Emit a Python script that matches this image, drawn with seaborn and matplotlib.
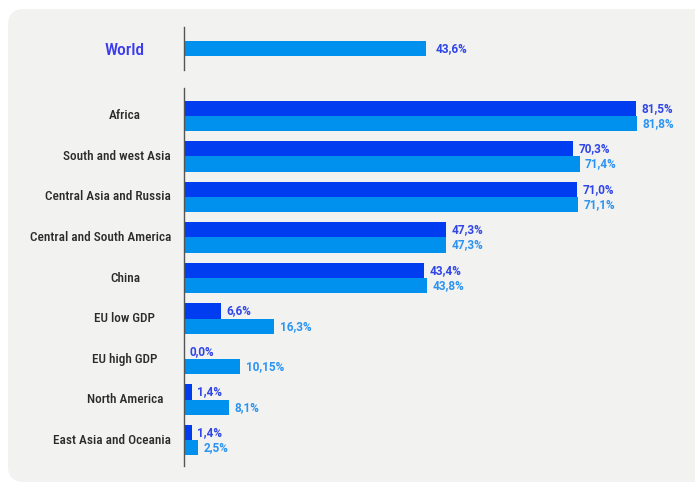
import matplotlib
matplotlib.use("Agg")
import matplotlib.pyplot as plt
from matplotlib.patches import FancyBboxPatch
from matplotlib import transforms, font_manager
import seaborn as sns
import pandas as pd

regions = ["Africa", "South and west Asia", "Central Asia and Russia",
           "Central and South America", "China", "EU low GDP", "EU high GDP",
           "North America", "East Asia and Oceania"]
series_a = [81.5, 70.3, 71.0, 47.3, 43.4, 6.6, 0.0, 1.4, 1.4]
series_b = [81.8, 71.4, 71.1, 47.3, 43.8, 16.3, 10.15, 8.1, 2.5]
series_names = ["Series A", "Series B"]
world_label = ["World"]
world_value = [43.6]

DARK = "#003CF0"
LIGHT = "#0091EE"
DARK_TXT = "#2F45E8"
LIGHT_TXT = "#2B93F2"
LABEL_TXT = "#2b2b2b"
NUMF = ["Roboto", "DejaVu Sans"]


def find_condensed():
    prefs = ["Liberation Sans Narrow", "Roboto Condensed", "DejaVu Sans Condensed",
             "Open Sans Condensed", "Noto Sans Condensed"]
    entries = font_manager.fontManager.ttflist
    cands = []
    for e in entries:
        fname = e.fname.lower()
        if ("narrow" in fname or "condensed" in fname) and "italic" not in fname \
                and "oblique" not in fname:
            cands.append(e)

    def norm(s):
        return s.lower().replace("-", "").replace("_", "").replace(" ", "")

    for p in prefs:
        key = norm(p)
        fam = [e for e in cands if key in norm(e.fname)]
        if not fam:
            continue
        for tag in ("medium", "semibold"):
            for e in fam:
                if tag in norm(e.fname):
                    return font_manager.FontProperties(fname=e.fname), True
        for e in fam:
            if "bold" not in norm(e.fname) and "light" not in norm(e.fname) \
                    and "thin" not in norm(e.fname) and "black" not in norm(e.fname):
                return font_manager.FontProperties(fname=e.fname), True
    for e in cands:
        if "bold" not in e.fname.lower():
            return font_manager.FontProperties(fname=e.fname), True
    return font_manager.FontProperties(family="DejaVu Sans"), False


cond_fp, is_cond = find_condensed()


def fmt(v):
    s = f"{v:.2f}"
    if s.endswith("0"):
        s = s[:-1]
    return s.replace(".", ",") + "%"


df = pd.DataFrame({
    "region": regions * 2,
    "series": [series_names[0]] * len(regions) + [series_names[1]] * len(regions),
    "value": series_a + series_b,
})
wdf = pd.DataFrame({"region": world_label, "value": world_value})

sns.set_theme(style="white")
W, H = 695, 483
fig = plt.figure(figsize=(W / 100, H / 100), dpi=100, facecolor="white")

panel = FancyBboxPatch((8 / 100, 1 / 100), 7.5, (H - 10) / 100,
                       boxstyle="round,pad=0,rounding_size=0.16",
                       transform=fig.dpi_scale_trans, facecolor="#F2F2F0",
                       edgecolor="none", zorder=-10)
fig.patches.append(panel)

left = 184 / W
xmax = 90
width = xmax * 5.54 / W

ax_w = fig.add_axes([left, 1 - 70 / H, width, 43 / H])
ax = fig.add_axes([left, 1 - 466 / H, width, (466 - 88) / H])
for a in (ax, ax_w):
    a.set_facecolor("none")
    a.set_zorder(5)

sns.barplot(data=wdf, x="value", y="region", color=LIGHT, width=0.35,
            ax=ax_w, saturation=1, linewidth=0)
sns.barplot(data=df, x="value", y="region", hue="series",
            palette=[DARK, LIGHT], width=0.75, ax=ax, saturation=1,
            legend=False, linewidth=0)

for a in (ax, ax_w):
    a.set_xlim(0, xmax)
    a.set_xlabel("")
    a.set_ylabel("")
    a.set_xticks([])
    for s in ("top", "right", "bottom"):
        a.spines[s].set_visible(False)
    a.spines["left"].set_color("#555555")
    a.spines["left"].set_linewidth(1.0)
    a.tick_params(left=False, labelleft=False)

ax.set_ylim(8.64, -0.69)
ax_w.set_ylim(0.5, -0.5)

lab_size = 9.5 if is_cond else 8.0
world_size = 12.5 if is_cond else 10.5

# category labels: centred in the label column, kept clear of the axis line
renderer = fig.canvas.get_renderer()
ax_px = ax.get_window_extent().x0
centre_px = 125
right_limit_px = 171
for i, r in enumerate(regions):
    t = ax.text(0, i, r, ha="center", va="center",
                fontproperties=cond_fp, fontsize=lab_size, color=LABEL_TXT)
    w = t.get_window_extent(renderer).width
    cx = min(centre_px, right_limit_px - w / 2)
    off = transforms.ScaledTranslation((cx - ax_px) / fig.dpi, 0, fig.dpi_scale_trans)
    t.set_transform(transforms.blended_transform_factory(ax.transAxes, ax.transData) + off)

trw = transforms.blended_transform_factory(ax_w.transAxes, ax_w.transData)
ax_w.text(-0.12, 0.05, world_label[0], transform=trw, ha="center", va="center",
          fontproperties=cond_fp, fontsize=world_size, color="#3B3BEF")

cont = ax.containers
ax.bar_label(cont[0], labels=[fmt(v) for v in series_a], padding=4,
             fontsize=8.5, fontweight="bold", color=DARK_TXT, family=NUMF)
ax.bar_label(cont[1], labels=[fmt(v) for v in series_b], padding=4,
             fontsize=8.5, fontweight="bold", color=LIGHT_TXT, family=NUMF)
ax_w.bar_label(ax_w.containers[0], labels=[fmt(v) for v in world_value],
               padding=7, fontsize=8.5, fontweight="bold", color=DARK_TXT,
               family=NUMF)

fig.savefig("out.png", dpi=100, facecolor="white")
